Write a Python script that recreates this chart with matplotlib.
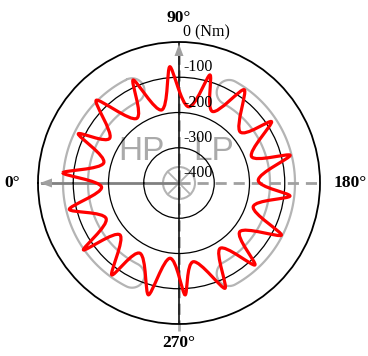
import numpy as np
import matplotlib
matplotlib.use('Agg')
import matplotlib.pyplot as plt
from matplotlib.patches import Circle, Polygon, PathPatch
from matplotlib.path import Path

# ---- data -------------------------------------------------------------
# torque curve vertices: angle (deg, clockwise from 0° at left) and torque (Nm)
curve_theta = [5, 15, 26, 33, 45, 56.8, 66, 76.7, 85.5, 97, 106, 115, 125, 140,
               146.5, 160, 166, 178, 186.7, 197.7, 207, 218.6, 227.2, 237.9,
               246.4, 259.7, 266.9, 276.8, 285.3, 299, 306.2, 318.7, 325, 334,
               346.5, 357]
curve_torque = [-69, -179, -82, -166, -68, -181, -80, -187, -69, -182, -81, -176,
                -77, -174, -85, -181, -75, -175, -83, -179, -74, -179, -83, -181,
                -74, -173, -82, -185, -71, -172, -77, -177, -69, -170, -80, -180]

r_ticks = [-100, -200, -300, -400]
r_tick_labels = ['-100', '-200', '-300', '-400']
r_top_label = '0 (Nm)'
angle_labels = ['0°', '90°', '180°', '270°']
port_labels = ['HP', 'LP']

# ---- layout -----------------------------------------------------------
W, H = 368, 356
CX, CY, R = 179, 183, 141          # centre / radius in pixels
RMIN, RMAX = -400, 0
fig = plt.figure(figsize=(W / 100, H / 100), dpi=100)
rect = [(CX - R) / W, (H - CY - R) / H, 2 * R / W, 2 * R / H]

# background overlay (cartesian, pixel units about the centre)
ov = fig.add_axes(rect, zorder=0)
ov.set_xlim(-R, R)
ov.set_ylim(-R, R)
ov.axis('off')

gray = '#b4b4b4'
def kidney(a0, a1, r_in, r_out, n=80):
    t = np.radians(np.linspace(a0, a1, n))
    rc = (r_in + r_out) / 2
    rw = (r_out - r_in) / 2
    outer = np.c_[r_out * np.cos(t), r_out * np.sin(t)]
    inner = np.c_[r_in * np.cos(t[::-1]), r_in * np.sin(t[::-1])]
    c1 = np.array([rc * np.cos(t[-1]), rc * np.sin(t[-1])])
    c0 = np.array([rc * np.cos(t[0]), rc * np.sin(t[0])])
    s = np.linspace(0, np.pi, 30)
    cap1 = np.c_[c1[0] + rw * np.cos(t[-1] + s), c1[1] + rw * np.sin(t[-1] + s)]
    cap0 = np.c_[c0[0] + rw * np.cos(t[0] + np.pi + s), c0[1] + rw * np.sin(t[0] + np.pi + s)]
    return np.vstack([outer, cap1, inner, cap0])

for a0, a1 in [(117, 243), (-61, 61)]:
    ov.add_patch(Polygon(kidney(a0, a1, 91, 116), closed=True, fill=False,
                         ec=gray, lw=1.6, zorder=1))

# centre wheel
ov.add_patch(Circle((0, 0), 16, fill=False, ec=gray, lw=1.5, zorder=1))
for a in (45, 135):
    ca, sa = np.cos(np.radians(a)) * 16, np.sin(np.radians(a)) * 16
    ov.plot([-ca, ca], [-sa, sa], color=gray, lw=1.3, zorder=1)

# horizontal axis: solid left half with arrow, dashed right half
ov.plot([-R + 4, 0], [0, 0], color='#808080', lw=2.0, zorder=2, clip_on=False)
ov.plot([0, R + 2], [0, 0], color='#a0a0a0', lw=2.0, ls=(0, (4, 2.5)), zorder=2, clip_on=False)
ov.add_patch(Polygon([[-R + 2, 0], [-R + 14, 4.5], [-R + 14, -4.5]], closed=True,
                     fc='#a0a0a0', ec='none', zorder=2, clip_on=False))
# vertical axis
ov.plot([0, 0], [-R - 7, R - 10], color='#b0b0b0', lw=2.0, ls=(0, (4, 2)), zorder=2, clip_on=False)
ov.plot([0, 0], [-R, R], color='black', lw=1.1, zorder=3)
ov.add_patch(Polygon([[0, R - 2], [-4.5, R - 14], [4.5, R - 14]], closed=True,
                     fc='#a0a0a0', ec='none', zorder=3))

# HP / LP labels
for lab, x in zip(port_labels, (-38, 35)):
    ov.text(x, 31, lab, color='#aaaaaa', fontsize=24, family='Liberation Sans',
            ha='center', va='center', zorder=1)

# polar axes on top
ax = fig.add_axes(rect, projection='polar', zorder=1)
ax.patch.set_alpha(0)
ax.set_theta_zero_location('W')
ax.set_theta_direction(-1)
ax.set_ylim(RMIN, RMAX)
ax.set_rgrids([-300, -200, -100], labels=[''] * 3)
ax.set_thetagrids([])
ax.yaxis.grid(True, color='black', lw=0.9)
ax.xaxis.grid(False)
ax.spines['polar'].set_color('black')
ax.spines['polar'].set_linewidth(1.3)

# smoothed closed curve (cubic Bezier through the vertices, like a
# "smoothed line" chart); control points are built in screen space and
# handed back to the polar data space. Outer tips are kept sharper.
th = np.radians(np.asarray(curve_theta, float))
rho = np.asarray(curve_torque, float) - RMIN
psi = np.pi - th
P = np.c_[rho * np.cos(psi), rho * np.sin(psi)]
n = len(P)
tension = np.where(rho > rho.mean(), 0.11, 0.18)
verts, codes = [P[0]], [Path.MOVETO]
for i in range(n):
    j, k = (i + 1) % n, (i + 2) % n
    p0, p1, p2, p3 = P[i - 1], P[i], P[j], P[k]
    c1 = p1 + (p2 - p0) * tension[i]
    c2 = p2 - (p3 - p1) * tension[j]
    verts += [c1, c2, p2]
    codes += [Path.CURVE4] * 3
verts = np.array(verts)
vr = np.hypot(verts[:, 0], verts[:, 1]) + RMIN
vt = np.pi - np.arctan2(verts[:, 1], verts[:, 0])
ax.add_patch(PathPatch(Path(np.c_[vt, vr], codes), fill=False, ec='red',
                       lw=2.3, joinstyle='round', zorder=5))
ax.set_xlim(0, 2 * np.pi)
ax.set_ylim(RMIN, RMAX)

# texts
serif = 'Liberation Serif'
for v, lab in zip(r_ticks, r_tick_labels):
    rp = (v - RMIN) / (RMAX - RMIN) * R
    fig.text(183 / W, 1 - (CY - rp - 10) / H, lab, family=serif, fontsize=11.5,
             ha='left', va='center')
fig.text(183 / W, 1 - (CY - R - 10) / H, r_top_label, family=serif, fontsize=11.5,
         ha='left', va='center')

pos = [(12, 183), (179, 18), (350, 183), (179, 343)]
for lab, (x, y) in zip(angle_labels, pos):
    fig.text(x / W, 1 - y / H, lab, family=serif, fontsize=12.5, weight='bold',
             ha='center', va='center')

fig.savefig('out.png', dpi=100)
